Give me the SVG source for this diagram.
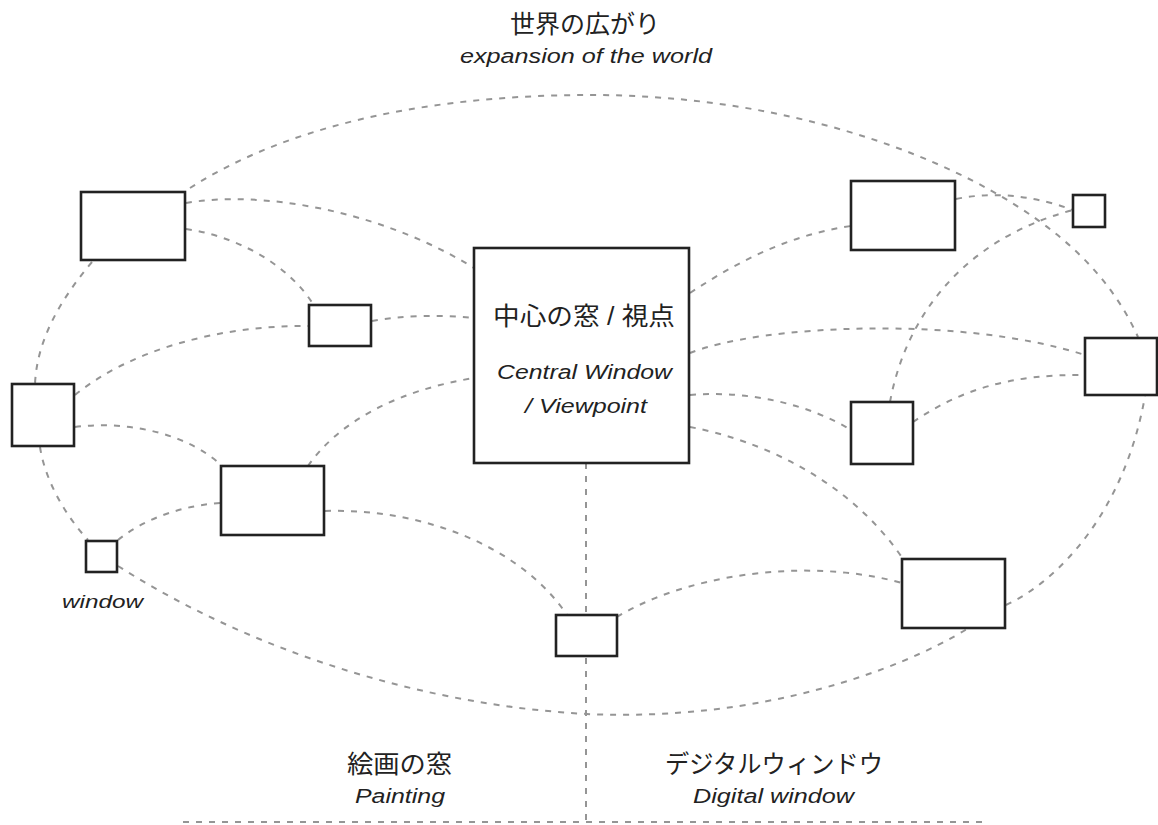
<svg xmlns="http://www.w3.org/2000/svg" width="1158" height="825" viewBox="0 0 1158 825">
  <style>
    .bg { fill: #ffffff; }
    .box { fill: #ffffff; stroke: #222222; stroke-width: 2.6; }
    .link { fill: none; stroke: #959595; stroke-width: 2; stroke-dasharray: 6 7; stroke-linecap: butt; }
    .jp { font-family: "Liberation Sans", "Noto Sans CJK JP", sans-serif; fill: #222222; }
    .en { font-family: "Liberation Sans", Arial, sans-serif; font-style: italic; fill: #222222; }
  </style>
  <rect class="bg" x="0" y="0" width="1158" height="825"/>

  <g id="connectors">
    <!-- outer ellipse -->
    <path class="link" d="M190,188 C 300,118 450,95 590,95 C 760,95 900,140 990,190 C 1060,229 1110,275 1138,337"/>
    <path class="link" d="M92,262 C 60,300 37,340 35,384"/>
    <path class="link" d="M40,447 C 45,480 65,515 88,540"/>
    <path class="link" d="M118,566 C 250,650 420,705 587,714 C 760,722 900,670 967,629"/>
    <path class="link" d="M1006,605 C 1060,580 1125,510 1145,396"/>
    <!-- inner links -->
    <path class="link" d="M186,203 C 260,190 380,210 474,268"/>
    <path class="link" d="M186,229 C 230,235 285,260 313,304"/>
    <path class="link" d="M372,321 C 400,316 440,314 474,318"/>
    <path class="link" d="M75,395 C 130,350 220,325 309,326"/>
    <path class="link" d="M75,427 C 130,420 190,435 222,466"/>
    <path class="link" d="M308,466 C 340,420 400,390 474,378"/>
    <path class="link" d="M118,540 C 145,518 185,505 221,503"/>
    <path class="link" d="M325,511 C 420,508 520,545 567,615"/>
    <path class="link" d="M690,293 C 740,260 790,235 851,226"/>
    <path class="link" d="M690,353 C 760,325 960,315 1085,355"/>
    <path class="link" d="M690,395 C 750,390 810,405 851,430"/>
    <path class="link" d="M690,427 C 760,440 850,480 903,559"/>
    <path class="link" d="M913,422 C 960,390 1010,374 1085,375"/>
    <path class="link" d="M890,402 C 905,320 960,240 1073,210"/>
    <path class="link" d="M956,199 C 1000,190 1040,198 1073,210"/>
    <path class="link" d="M617,617 C 680,578 800,555 902,583"/>
    <!-- axes -->
    <path class="link" d="M586,463 L586,822"/>
    <path class="link" d="M183,822 L982,822"/>
  </g>

  <g id="node-a"><rect class="box" x="81" y="192" width="104" height="68"/></g>
  <g id="node-b"><rect class="box" x="309" y="305" width="62" height="41"/></g>
  <g id="node-c"><rect class="box" x="12" y="384" width="62" height="62"/></g>
  <g id="node-d"><rect class="box" x="221" y="466" width="103" height="69"/></g>
  <g id="node-window">
    <rect class="box" x="86" y="541" width="31" height="31"/>
    <text class="en" x="62" y="608" font-size="19" textLength="81" lengthAdjust="spacingAndGlyphs">window</text>
  </g>
  <g id="node-central">
    <rect class="box" x="474" y="248" width="215" height="215"/>
    <text class="jp" x="493" y="325" font-size="25" textLength="182" lengthAdjust="spacingAndGlyphs">中心の窓 / 視点</text>
    <text class="en" x="497" y="379" font-size="20" textLength="175" lengthAdjust="spacingAndGlyphs">Central Window</text>
    <text class="en" x="525" y="413" font-size="20" textLength="122" lengthAdjust="spacingAndGlyphs">/ Viewpoint</text>
  </g>
  <g id="node-f"><rect class="box" x="851" y="181" width="104" height="69"/></g>
  <g id="node-g"><rect class="box" x="1073" y="195" width="32" height="32"/></g>
  <g id="node-h"><rect class="box" x="1085" y="338" width="72" height="57"/></g>
  <g id="node-i"><rect class="box" x="851" y="402" width="62" height="62"/></g>
  <g id="node-j"><rect class="box" x="902" y="559" width="103" height="69"/></g>
  <g id="node-k"><rect class="box" x="556" y="615" width="61" height="41"/></g>

  <g id="title">
    <text class="jp" x="510" y="33" font-size="25" textLength="150" lengthAdjust="spacingAndGlyphs">世界の広がり</text>
    <text class="en" x="460" y="63" font-size="20" textLength="252" lengthAdjust="spacingAndGlyphs">expansion of the world</text>
  </g>
  <g id="label-painting">
    <text class="jp" x="347" y="773" font-size="25" textLength="105" lengthAdjust="spacingAndGlyphs">絵画の窓</text>
    <text class="en" x="355" y="803" font-size="20" textLength="90" lengthAdjust="spacingAndGlyphs">Painting</text>
  </g>
  <g id="label-digital">
    <text class="jp" x="665" y="773" font-size="25" textLength="218" lengthAdjust="spacingAndGlyphs">デジタルウィンドウ</text>
    <text class="en" x="693" y="803" font-size="20" textLength="161" lengthAdjust="spacingAndGlyphs">Digital window</text>
  </g>
</svg>
